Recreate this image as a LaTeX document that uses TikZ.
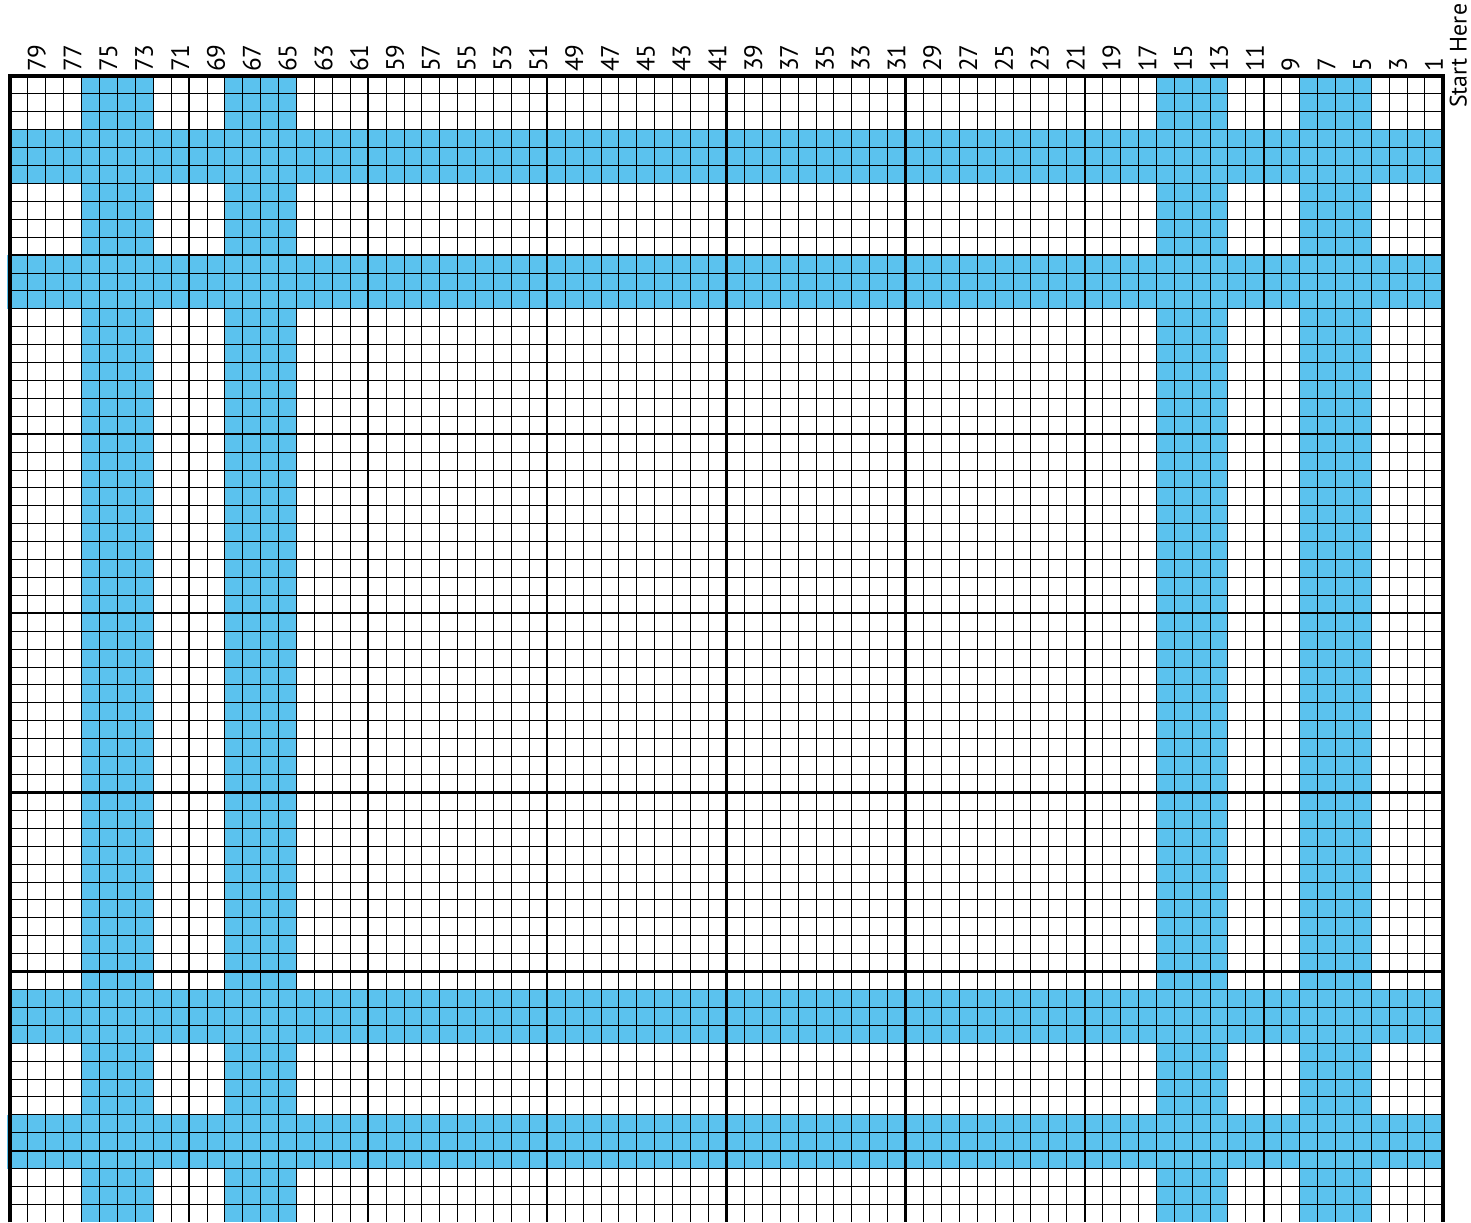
\documentclass[tikz,border=0pt]{standalone}
\usepackage{fontspec}
\setmainfont{PT Sans}
\definecolor{bandblue}{HTML}{5BC2EE}
\begin{document}
\begin{tikzpicture}[x=0.45cm, y=-0.45cm, every node/.style={rotate=90, anchor=west, inner sep=0pt, font=\fontsize{18}{18}\selectfont}]
            \useasboundingbox (-0.558,-4.243) rectangle (81.57,64);
            % coloured bands
            \foreach \r/\a/\b in {3/0/80.1, 10/-0.15/80, 51/0/80.1, 58/-0.15/80} {
                \fill[bandblue] (\a,\r) rectangle (\b,\r+3);
            }
            \foreach \c in {4,12,64,72} {
                \fill[bandblue] (\c,0) rectangle (\c+4,64);
            }
            % grid
            \foreach \i in {1,...,79} {
                \draw[line width=0.7pt] (\i,0) -- (\i,64);
            }
            \foreach \i in {1,...,63} {
                \draw[line width=0.7pt] (0,\i) -- (80,\i);
            }
            \foreach \i in {10,20,...,70} {
                \draw[line width=1.6pt] (\i,0) -- (\i,64);
            }
            \foreach \i in {10,20,...,60} {
                \draw[line width=1.6pt] (0,\i) -- (80,\i);
            }
            \draw[line width=2.6pt] (0,64) -- (0,0) -- (80,0) -- (80,64);
            % column numbers
            \foreach \n in {1,3,...,79} {
                \node (c\n) at (80-\n+0.5,-0.22) {\n};
            }
            \node[font=\fontsize{17}{17}\selectfont] (start) at (80.86,1.79) {Start Here};
        \end{tikzpicture}
\end{document}
